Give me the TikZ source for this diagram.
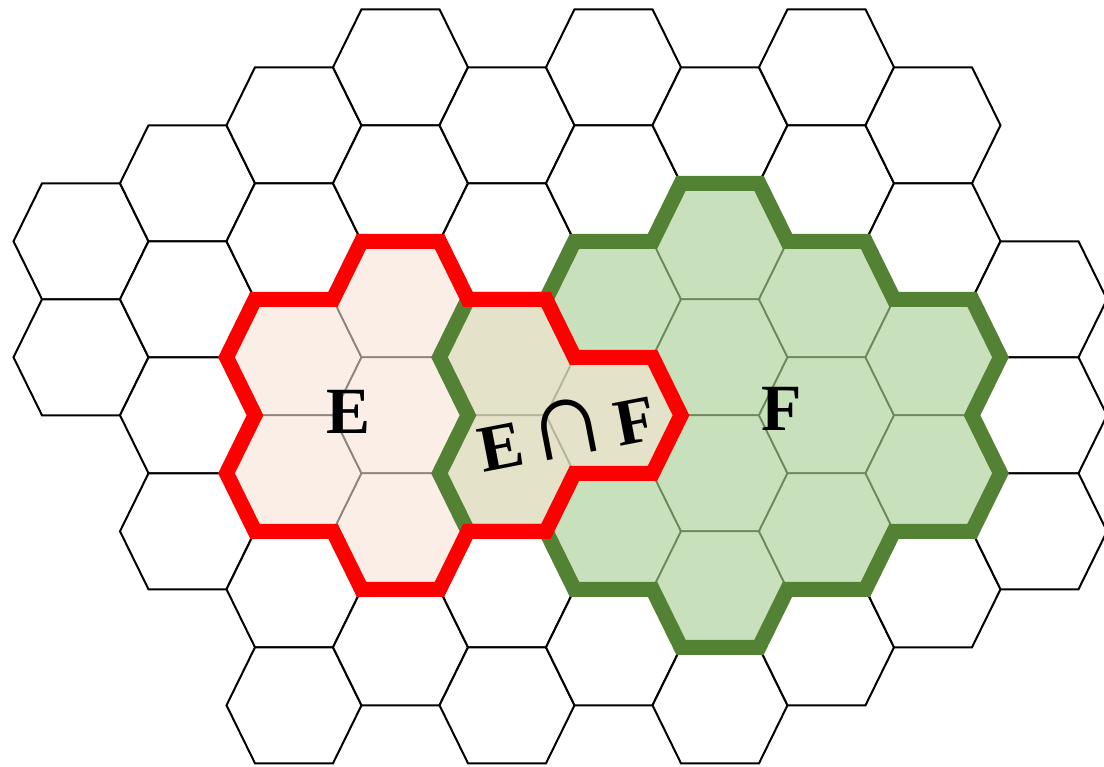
\documentclass[tikz,border=0pt]{standalone}
\usepackage{fontspec}
\setmainfont{Liberation Serif}
\definecolor{efill}{HTML}{FAEEE6}
\definecolor{ffill}{HTML}{C8E1BC}
\definecolor{effill}{HTML}{E4E2C8}
\definecolor{eline}{HTML}{8C857E}
\definecolor{fline}{HTML}{6A8A5C}
\definecolor{efline}{HTML}{B4B69C}
\definecolor{fgreen}{HTML}{548235}
\definecolor{ered}{HTML}{FF0000}
\newcommand\hexat[3]{%
  \path[#1] ({81+106.5*#2+67.5},{9.3+58*#3}) -- ++(-28.5,-58) -- ++(-78,0)
    -- ++(-28.5,58) -- ++(28.5,58) -- ++(78,0) -- cycle;}
\tikzset{
  whitehex/.style={draw=black,line width=2pt,fill=white},
  ehex/.style={draw=eline,line width=1.8pt,fill=efill},
  fhex/.style={draw=fline,line width=1.8pt,fill=ffill},
  efhex/.style={draw=efline,line width=1.8pt,fill=effill},
  redline/.style={draw=ered,line width=15pt,line join=miter},
  greenline/.style={draw=fgreen,line width=15pt,line join=miter},
  biglabel/.style={font=\bfseries\fontsize{66}{66}\selectfont,inner sep=0pt}
}
\begin{document}
\begin{tikzpicture}[x=1pt,y=-1pt]
\useasboundingbox (0,0) rectangle (1104,767);
% white hexes
\foreach \n in {4,6} {\hexat{whitehex}{0}{\n}}
\foreach \n in {3,5,7,9} {\hexat{whitehex}{1}{\n}}
\foreach \n in {2,4,10,12} {\hexat{whitehex}{2}{\n}}
\foreach \n in {1,3,11} {\hexat{whitehex}{3}{\n}}
\foreach \n in {2,4,10,12} {\hexat{whitehex}{4}{\n}}
\foreach \n in {1,3,11} {\hexat{whitehex}{5}{\n}}
\foreach \n in {2,12} {\hexat{whitehex}{6}{\n}}
\foreach \n in {1,3,11} {\hexat{whitehex}{7}{\n}}
\foreach \n in {2,4,10} {\hexat{whitehex}{8}{\n}}
\foreach \n in {5,7,9} {\hexat{whitehex}{9}{\n}}
% E cells
\foreach \n in {6,8} {\hexat{ehex}{2}{\n}}
\foreach \n in {5,7,9} {\hexat{ehex}{3}{\n}}
% F cells
\foreach \n in {5,9} {\hexat{fhex}{5}{\n}}
\foreach \n in {4,6,8,10} {\hexat{fhex}{6}{\n}}
\foreach \n in {5,7,9} {\hexat{fhex}{7}{\n}}
\foreach \n in {6,8} {\hexat{fhex}{8}{\n}}
% E and F cells
\foreach \n in {6,8} {\hexat{efhex}{4}{\n}}
\hexat{efhex}{5}{7}
% F outline
\draw[greenline] (439.5,357.3) -- (468,299.3) -- (546,299.3) -- (574.5,241.3)
  -- (652.5,241.3) -- (681,183.3) -- (759,183.3) -- (787.5,241.3) -- (865.5,241.3)
  -- (894,299.3) -- (972,299.3) -- (1000.5,357.3) -- (972,415.3) -- (1000.5,473.3)
  -- (972,531.3) -- (894,531.3) -- (865.5,589.3) -- (787.5,589.3) -- (759,647.3)
  -- (681,647.3) -- (652.5,589.3) -- (574.5,589.3) -- (546,531.3) -- (468,531.3)
  -- (439.5,473.3) -- (468,415.3) -- cycle;
% E outline
\draw[redline] (226.5,357.3) -- (255,299.3) -- (333,299.3) -- (361.5,241.3)
  -- (439.5,241.3) -- (468,299.3) -- (546,299.3) -- (574.5,357.3) -- (652.5,357.3)
  -- (681,415.3) -- (652.5,473.3) -- (574.5,473.3) -- (546,531.3) -- (468,531.3)
  -- (439.5,589.3) -- (361.5,589.3) -- (333,531.3) -- (255,531.3) -- (226.5,473.3)
  -- (255,415.3) -- cycle;
% labels
\node[biglabel] (lE) at (349,412) {E};
\node[biglabel] (lF) at (782,409) {F};
\node[biglabel,rotate=11] (lEF) at (566,428)
  {E\hspace{5pt}{\mdseries\fontsize{112}{112}\selectfont ∩}\hspace{8pt}F};
\end{tikzpicture}
\end{document}
